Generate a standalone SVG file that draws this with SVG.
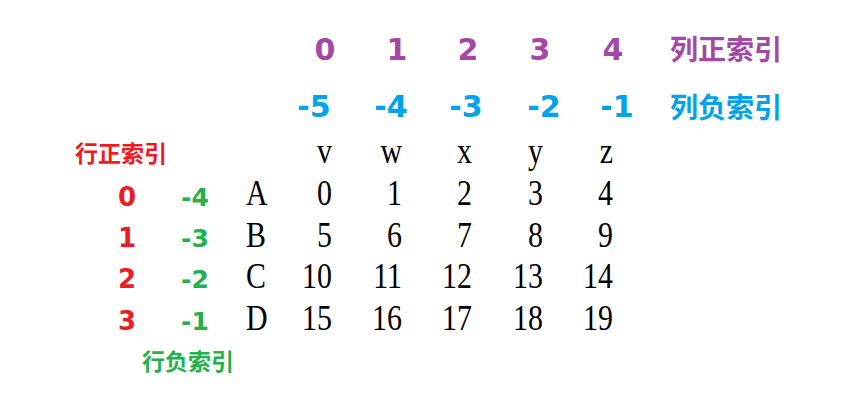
<svg xmlns="http://www.w3.org/2000/svg" width="841" height="419" viewBox="0 0 841 419">
<style>
.b{font-family:"DejaVu Sans","Noto Sans CJK SC",sans-serif;font-weight:bold;text-anchor:middle}
.cn{font-family:"Noto Sans CJK SC",sans-serif;font-weight:bold;text-anchor:start}
.p{fill:#A349A4}
.bl{fill:#00A2E8}
.r{fill:#ED1C24}
.g{fill:#22B14C}
.t{font-family:"Liberation Serif","DejaVu Serif",serif;font-size:36px;fill:#000;text-anchor:end}
.l{font-family:"Liberation Serif","DejaVu Serif",serif;font-size:36px;fill:#000}
</style>
<rect width="841" height="419" fill="#fff"/>
<g id="col-pos">
<text class="b p" font-size="30" x="325" y="60">0</text>
<text class="b p" font-size="30" x="397" y="60">1</text>
<text class="b p" font-size="30" x="468" y="60">2</text>
<text class="b p" font-size="30" x="540" y="60">3</text>
<text class="b p" font-size="30" x="613" y="60">4</text>
<text class="cn p" x="670" y="60" font-size="28">列正索引</text>
</g>
<g id="col-neg">
<text class="b bl" font-size="30" x="314" y="117">-5</text>
<text class="b bl" font-size="30" x="391" y="117">-4</text>
<text class="b bl" font-size="30" x="466" y="117">-3</text>
<text class="b bl" font-size="30" x="544" y="117">-2</text>
<text class="b bl" font-size="30" x="617" y="117">-1</text>
<text class="cn bl" x="670" y="118" font-size="28">列负索引</text>
</g>
<g id="row-pos">
<text class="cn r" x="75" y="162" font-size="23">行正索引</text>
<text class="b r" font-size="26" x="127" y="206">0</text>
<text class="b r" font-size="26" x="127" y="247">1</text>
<text class="b r" font-size="26" x="127" y="288">2</text>
<text class="b r" font-size="26" x="127" y="330">3</text>
</g>
<g id="row-neg">
<text class="b g" font-size="25" x="195" y="206">-4</text>
<text class="b g" font-size="25" x="195" y="247">-3</text>
<text class="b g" font-size="25" x="195" y="288">-2</text>
<text class="b g" font-size="25" x="195" y="330">-1</text>
<text class="cn g" x="142" y="370" font-size="23">行负索引</text>
</g>
<g id="table">
<g id="header">
<text class="t" transform="translate(332,163) scale(0.83,1)">v</text>
<text class="t" transform="translate(402,163) scale(0.83,1)">w</text>
<text class="t" transform="translate(472,163) scale(0.83,1)">x</text>
<text class="t" transform="translate(543,163) scale(0.83,1)">y</text>
<text class="t" transform="translate(613,163) scale(0.83,1)">z</text>
</g>
<g id="rowA">
<text class="l" transform="translate(246,205) scale(0.83,1)">A</text>
<text class="t" transform="translate(332,205) scale(0.83,1)">0</text>
<text class="t" transform="translate(402,205) scale(0.83,1)">1</text>
<text class="t" transform="translate(472,205) scale(0.83,1)">2</text>
<text class="t" transform="translate(543,205) scale(0.83,1)">3</text>
<text class="t" transform="translate(613,205) scale(0.83,1)">4</text>
</g>
<g id="rowB">
<text class="l" transform="translate(246,247) scale(0.83,1)">B</text>
<text class="t" transform="translate(332,247) scale(0.83,1)">5</text>
<text class="t" transform="translate(402,247) scale(0.83,1)">6</text>
<text class="t" transform="translate(472,247) scale(0.83,1)">7</text>
<text class="t" transform="translate(543,247) scale(0.83,1)">8</text>
<text class="t" transform="translate(613,247) scale(0.83,1)">9</text>
</g>
<g id="rowC">
<text class="l" transform="translate(246,288) scale(0.83,1)">C</text>
<text class="t" transform="translate(332,288) scale(0.83,1)">10</text>
<text class="t" transform="translate(402,288) scale(0.83,1)">11</text>
<text class="t" transform="translate(472,288) scale(0.83,1)">12</text>
<text class="t" transform="translate(543,288) scale(0.83,1)">13</text>
<text class="t" transform="translate(613,288) scale(0.83,1)">14</text>
</g>
<g id="rowD">
<text class="l" transform="translate(246,330) scale(0.83,1)">D</text>
<text class="t" transform="translate(332,330) scale(0.83,1)">15</text>
<text class="t" transform="translate(402,330) scale(0.83,1)">16</text>
<text class="t" transform="translate(472,330) scale(0.83,1)">17</text>
<text class="t" transform="translate(543,330) scale(0.83,1)">18</text>
<text class="t" transform="translate(613,330) scale(0.83,1)">19</text>
</g>
</g>
<g id="connectors"/>
</svg>
